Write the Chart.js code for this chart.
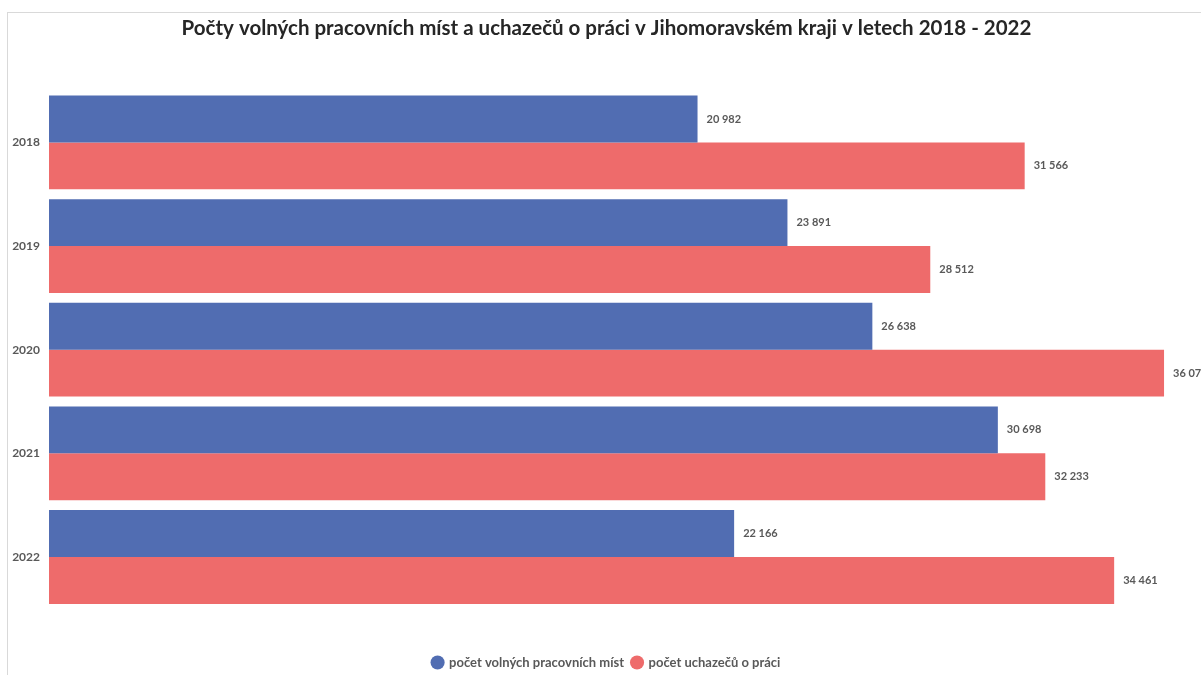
<!DOCTYPE html>
<html>
<head>
<meta charset="utf-8">
<script src="https://cdn.jsdelivr.net/npm/chart.js@4.4.1/dist/chart.umd.min.js"></script>
<style>
  html, body { margin:0; padding:0; width:1201px; height:675px; overflow:hidden; background:#fff; }
  #frame { position:absolute; left:7px; top:12px; width:1206px; height:720px; border:1px solid #d9d9d9; box-sizing:content-box; }
  #wrap { position:absolute; left:0; top:0; width:1206px; height:666px; }
</style>
</head>
<body>
<div id="frame"><div id="wrap"><canvas id="c"></canvas></div></div>
<script>
const years = ['2018', '2019', '2020', '2021', '2022'];
const vacancies = [20982, 23891, 26638, 30698, 22166];
const applicants = [31566, 28512, 36075, 32233, 34461];
const seriesNames = ['počet volných pracovních míst', 'počet uchazečů o práci'];
const titleText = 'Počty volných pracovních míst a uchazečů o práci v Jihomoravském kraji v letech 2018 - 2022';

const FONT = 'Lato, "Open Sans", sans-serif';
const fmt = n => n.toString().replace(/\B(?=(\d{3})+(?!\d))/g, ' ');

const labelPlugin = {
  id: 'barLabels',
  afterDatasetsDraw(chart) {
    const ctx = chart.ctx;
    ctx.save();
    ctx.font = 'bold 11px ' + FONT;
    ctx.fillStyle = '#595959';
    ctx.textAlign = 'left';
    ctx.textBaseline = 'middle';
    chart.data.datasets.forEach((ds, i) => {
      const meta = chart.getDatasetMeta(i);
      meta.data.forEach((el, j) => {
        ctx.fillText(fmt(ds.data[j]), el.x + 9, el.y);
      });
    });
    ctx.restore();
  }
};

new Chart(document.getElementById('c'), {
  type: 'bar',
  data: {
    labels: years,
    datasets: [
      { label: seriesNames[0], data: vacancies, backgroundColor: '#516DB2', borderWidth: 0 },
      { label: seriesNames[1], data: applicants, backgroundColor: '#EE6B6B', borderWidth: 0 }
    ]
  },
  options: {
    indexAxis: 'y',
    responsive: true,
    maintainAspectRatio: false,
    animation: false,
    layout: { padding: { left: 0, right: 9, top: 0, bottom: 0 } },
    datasets: { bar: { barPercentage: 1.0, categoryPercentage: 0.905 } },
    scales: {
      x: { display: false, min: 0, max: 37400 },
      y: {
        grid: { display: false, drawTicks: false },
        border: { display: false },
        ticks: { color: '#595959', font: { family: FONT, size: 12, weight: 'bold' }, padding: 9 },
        afterFit(s) { s.width = 41; }
      }
    },
    plugins: {
      title: {
        display: true,
        text: titleText,
        color: '#262626',
        font: { family: FONT, size: 20.5, weight: 'bold' },
        padding: { top: 3, bottom: 50 }
      },
      legend: {
        position: 'bottom',
        title: { display: true, text: ' ', font: { size: 1 }, padding: { top: 38, bottom: 0 } },
        labels: {
          usePointStyle: true,
          pointStyle: 'circle',
          boxWidth: 10,
          boxHeight: 10,
          color: '#595959',
          padding: 8,
          font: { family: FONT, size: 13, weight: 'bold' }
        }
      },
      tooltip: { enabled: false }
    }
  },
  plugins: [labelPlugin]
});
</script>
</body>
</html>
